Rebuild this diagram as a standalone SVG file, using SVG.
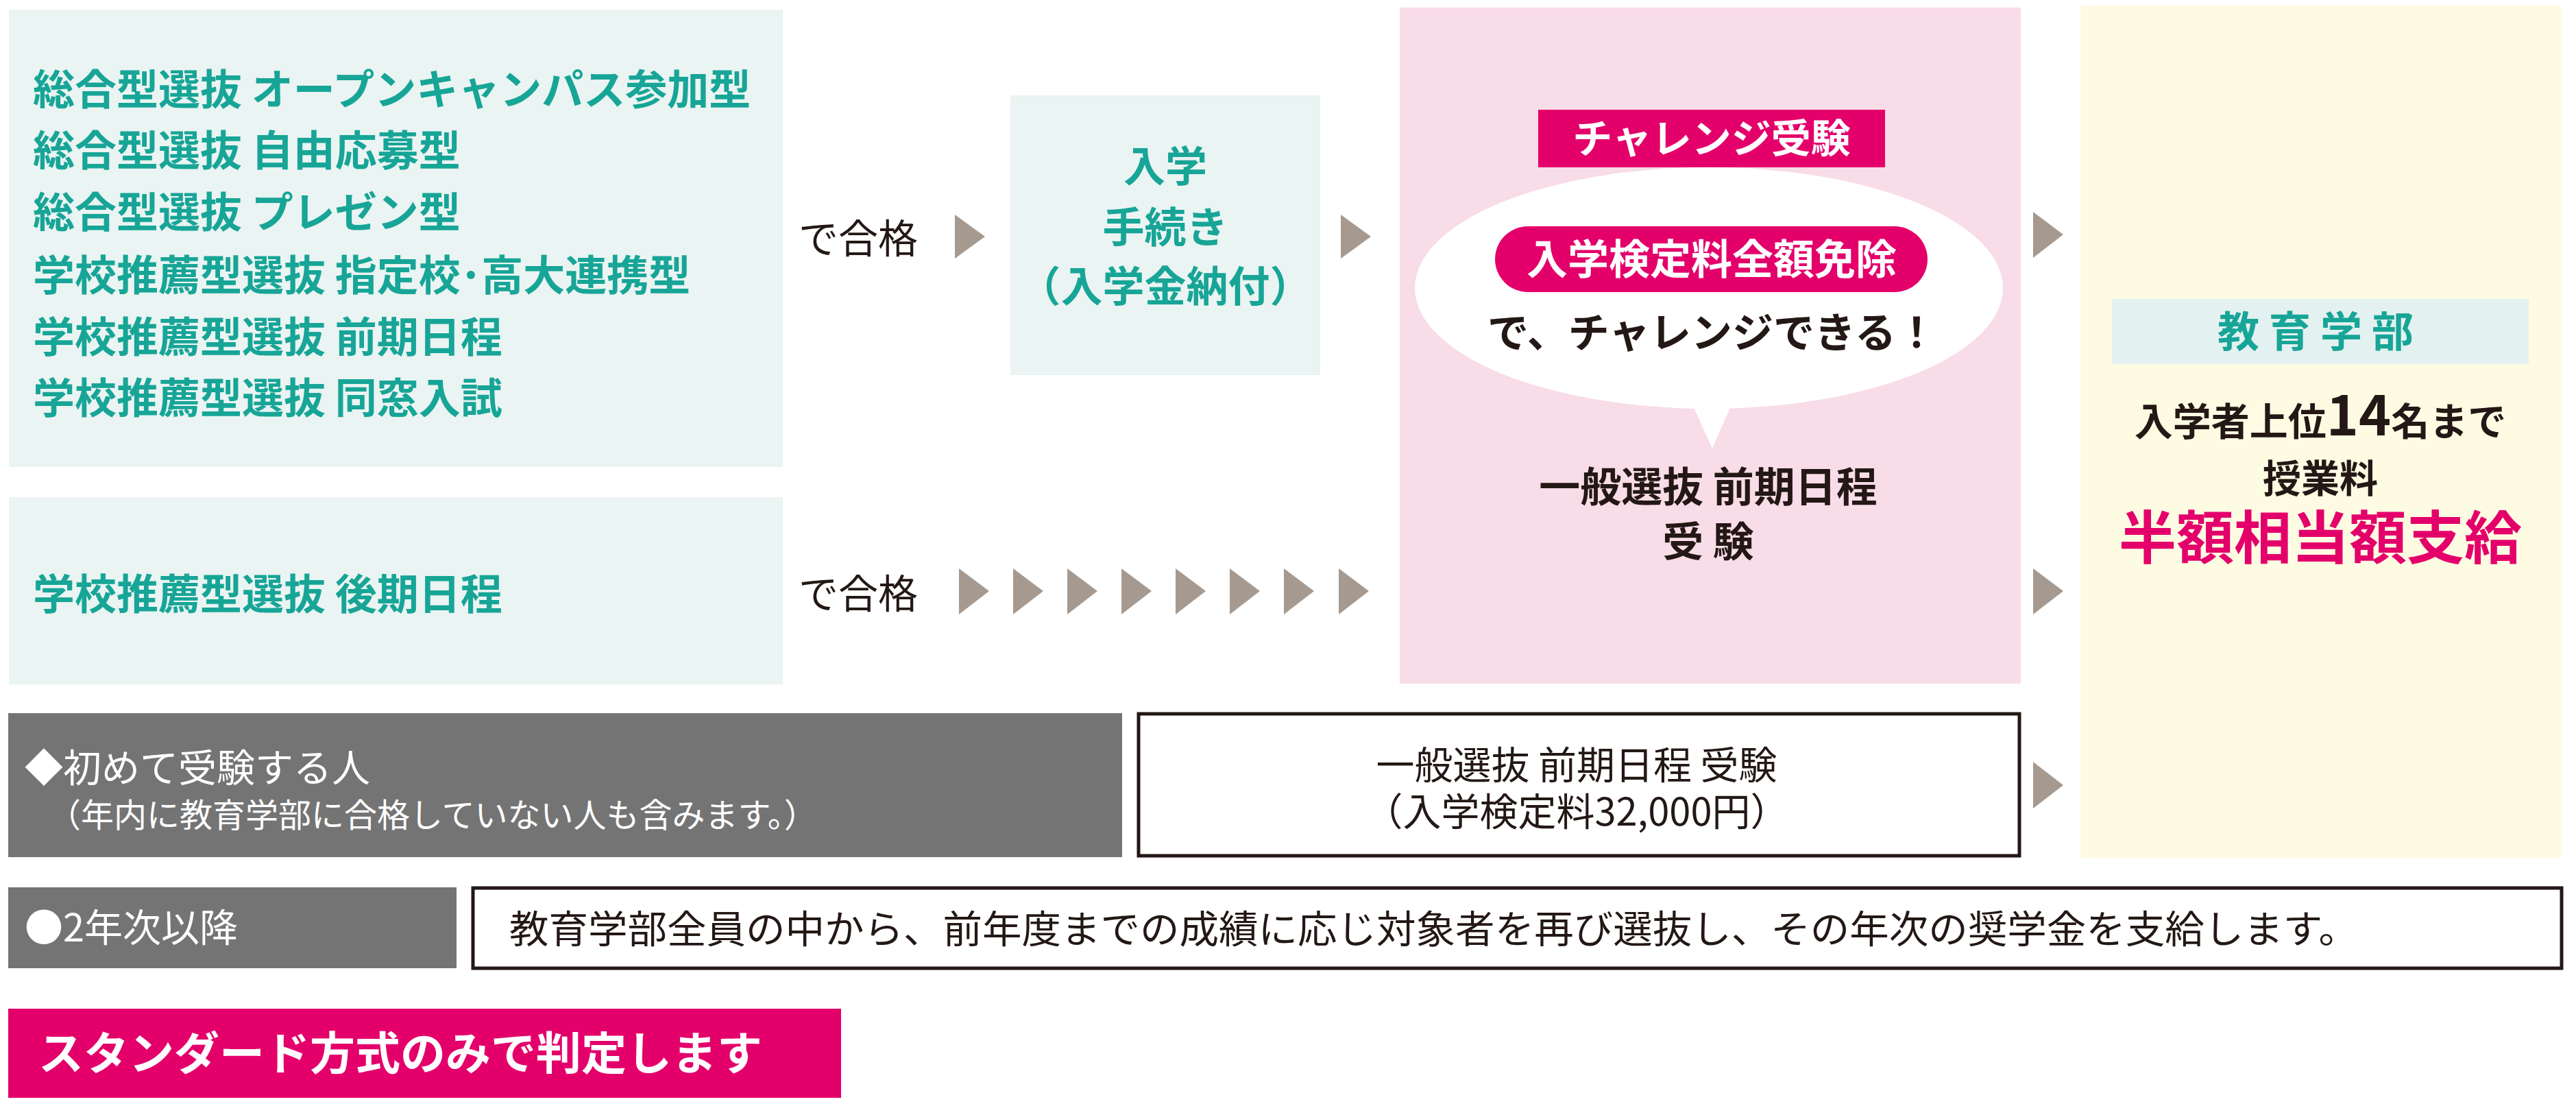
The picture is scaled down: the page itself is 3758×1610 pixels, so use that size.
<svg xmlns="http://www.w3.org/2000/svg" width="3758" height="1610" viewBox="0 0 3758 1610">
<style>
text{font-family:"Noto Sans CJK JP","Noto Sans",sans-serif}
.t{fill:#17a597;font-weight:bold;font-size:61px}
.k{fill:#231815}
.b{font-weight:bold}
.w{fill:#fff}
.arr{fill:#a69a90}
.lt{fill:#eaf4f2}
</style>
<rect width="3758" height="1610" fill="#fff"/>
<g id="box-early">
<rect class="lt" x="13" y="14" width="1129" height="667"/>
<text class="t" x="48" y="153">総合型選抜 オープンキャンパス参加型</text>
<text class="t" x="48" y="242">総合型選抜 自由応募型</text>
<text class="t" x="48" y="332">総合型選抜 プレゼン型</text>
<text class="t" x="48" y="424">学校推薦型選抜 指定校･高大連携型</text>
<text class="t" x="48" y="514">学校推薦型選抜 前期日程</text>
<text class="t" x="48" y="603">学校推薦型選抜 同窓入試</text>
</g>
<g id="box-late">
<rect class="lt" x="13" y="725" width="1129" height="273"/>
<text class="t" x="48" y="889">学校推薦型選抜 後期日程</text>
</g>
<g id="label-pass1"><text class="k" x="1165" y="369" font-size="58">で合格</text></g>
<g id="label-pass2"><text class="k" x="1165" y="887" font-size="58">で合格</text></g>
<g id="box-enroll">
<rect class="lt" x="1474" y="139" width="452" height="408"/>
<text class="t" x="1700" y="265" text-anchor="middle">入学</text>
<text class="t" x="1700" y="354" text-anchor="middle">手続き</text>
<text class="t" x="1700" y="440" text-anchor="middle">（入学金納付）</text>
</g>
<g id="box-challenge">
<rect x="2042" y="11" width="906" height="986" fill="#f8dce7"/>
<rect x="2244" y="160" width="506" height="84" fill="#e4006b"/>
<text class="w b" x="2497" y="223" font-size="58" text-anchor="middle">チャレンジ受験</text>
<path d="M2469 590 L2498 654 L2526 590 Z" fill="#fff"/>
<ellipse cx="2493" cy="420" rx="429" ry="176" fill="#fff"/>
<rect x="2181" y="330" width="631" height="96" rx="48" fill="#e4006b"/>
<text class="w b" x="2497" y="400" font-size="60" text-anchor="middle">入学検定料全額免除</text>
<text class="k b" x="2498" y="507" font-size="60" text-anchor="middle">で、チャレンジできる！</text>
<text class="k b" x="2492" y="732" font-size="60" text-anchor="middle">一般選抜 前期日程</text>
<text class="k b" x="2492" y="812" font-size="60" text-anchor="middle">受 験</text>
</g>
<g id="box-result">
<rect x="3035" y="8" width="702" height="1243" fill="#fefbe3"/>
<rect x="3081" y="436" width="608" height="95" fill="#e3f1f0"/>
<text class="t" x="3385" y="506" text-anchor="middle" letter-spacing="14">教育学部</text>
<text class="k b" x="3385" y="635" font-size="56" text-anchor="middle">入学者上位<tspan font-size="80">14</tspan>名まで</text>
<text class="k b" x="3385" y="718" font-size="56" text-anchor="middle">授業料</text>
<text class="b" x="3385" y="815" font-size="84" fill="#e4006b" text-anchor="middle">半額相当額支給</text>
</g>
<g id="box-first">
<rect x="12" y="1040" width="1625" height="210" fill="#747474"/>
<text class="w" x="36" y="1140" font-size="56">◆初めて受験する人</text>
<text class="w" x="70" y="1206" font-size="48">（年内に教育学部に合格していない人も含みます。）</text>
</g>
<g id="box-general">
<rect x="1661" y="1041" width="1285" height="207" fill="#fff" stroke="#231815" stroke-width="5"/>
<text class="k" x="2300" y="1136" font-size="56" text-anchor="middle">一般選抜 前期日程 受験</text>
<text class="k" x="2300" y="1204" font-size="56" text-anchor="middle">（入学検定料32,000円）</text>
</g>
<g id="box-second">
<rect x="12" y="1294" width="654" height="118" fill="#747474"/>
<text class="w" x="36" y="1373" font-size="56">●2年次以降</text>
</g>
<g id="box-second-desc">
<rect x="690" y="1295" width="3047" height="117" fill="#fff" stroke="#231815" stroke-width="5"/>
<text class="k" x="743" y="1375" font-size="56" textLength="2697" lengthAdjust="spacingAndGlyphs">教育学部全員の中から、前年度までの成績に応じ対象者を再び選抜し、その年次の奨学金を支給します。</text>
</g>
<g id="note">
<rect x="12" y="1471" width="1215" height="130" fill="#e4006b"/>
<text class="w b" x="56" y="1560" font-size="66">スタンダード方式のみで判定します</text>
</g>
<g id="connectors" class="arr">
<path d="M1393 313 L1437 345 L1393 377 Z"/>
<path d="M1956 313 L2000 345 L1956 377 Z"/>
<path d="M2966 309 L3010 342 L2966 376 Z"/>
<path d="M1399 829 L1443 862 L1399 896 Z"/>
<path d="M1478 829 L1522 862 L1478 896 Z"/>
<path d="M1557 829 L1601 862 L1557 896 Z"/>
<path d="M1636 829 L1680 862 L1636 896 Z"/>
<path d="M1715 829 L1759 862 L1715 896 Z"/>
<path d="M1794 829 L1838 862 L1794 896 Z"/>
<path d="M1873 829 L1917 862 L1873 896 Z"/>
<path d="M1953 829 L1997 862 L1953 896 Z"/>
<path d="M2966 829 L3010 862 L2966 896 Z"/>
<path d="M2966 1111 L3010 1145 L2966 1179 Z"/>
</g>
</svg>
